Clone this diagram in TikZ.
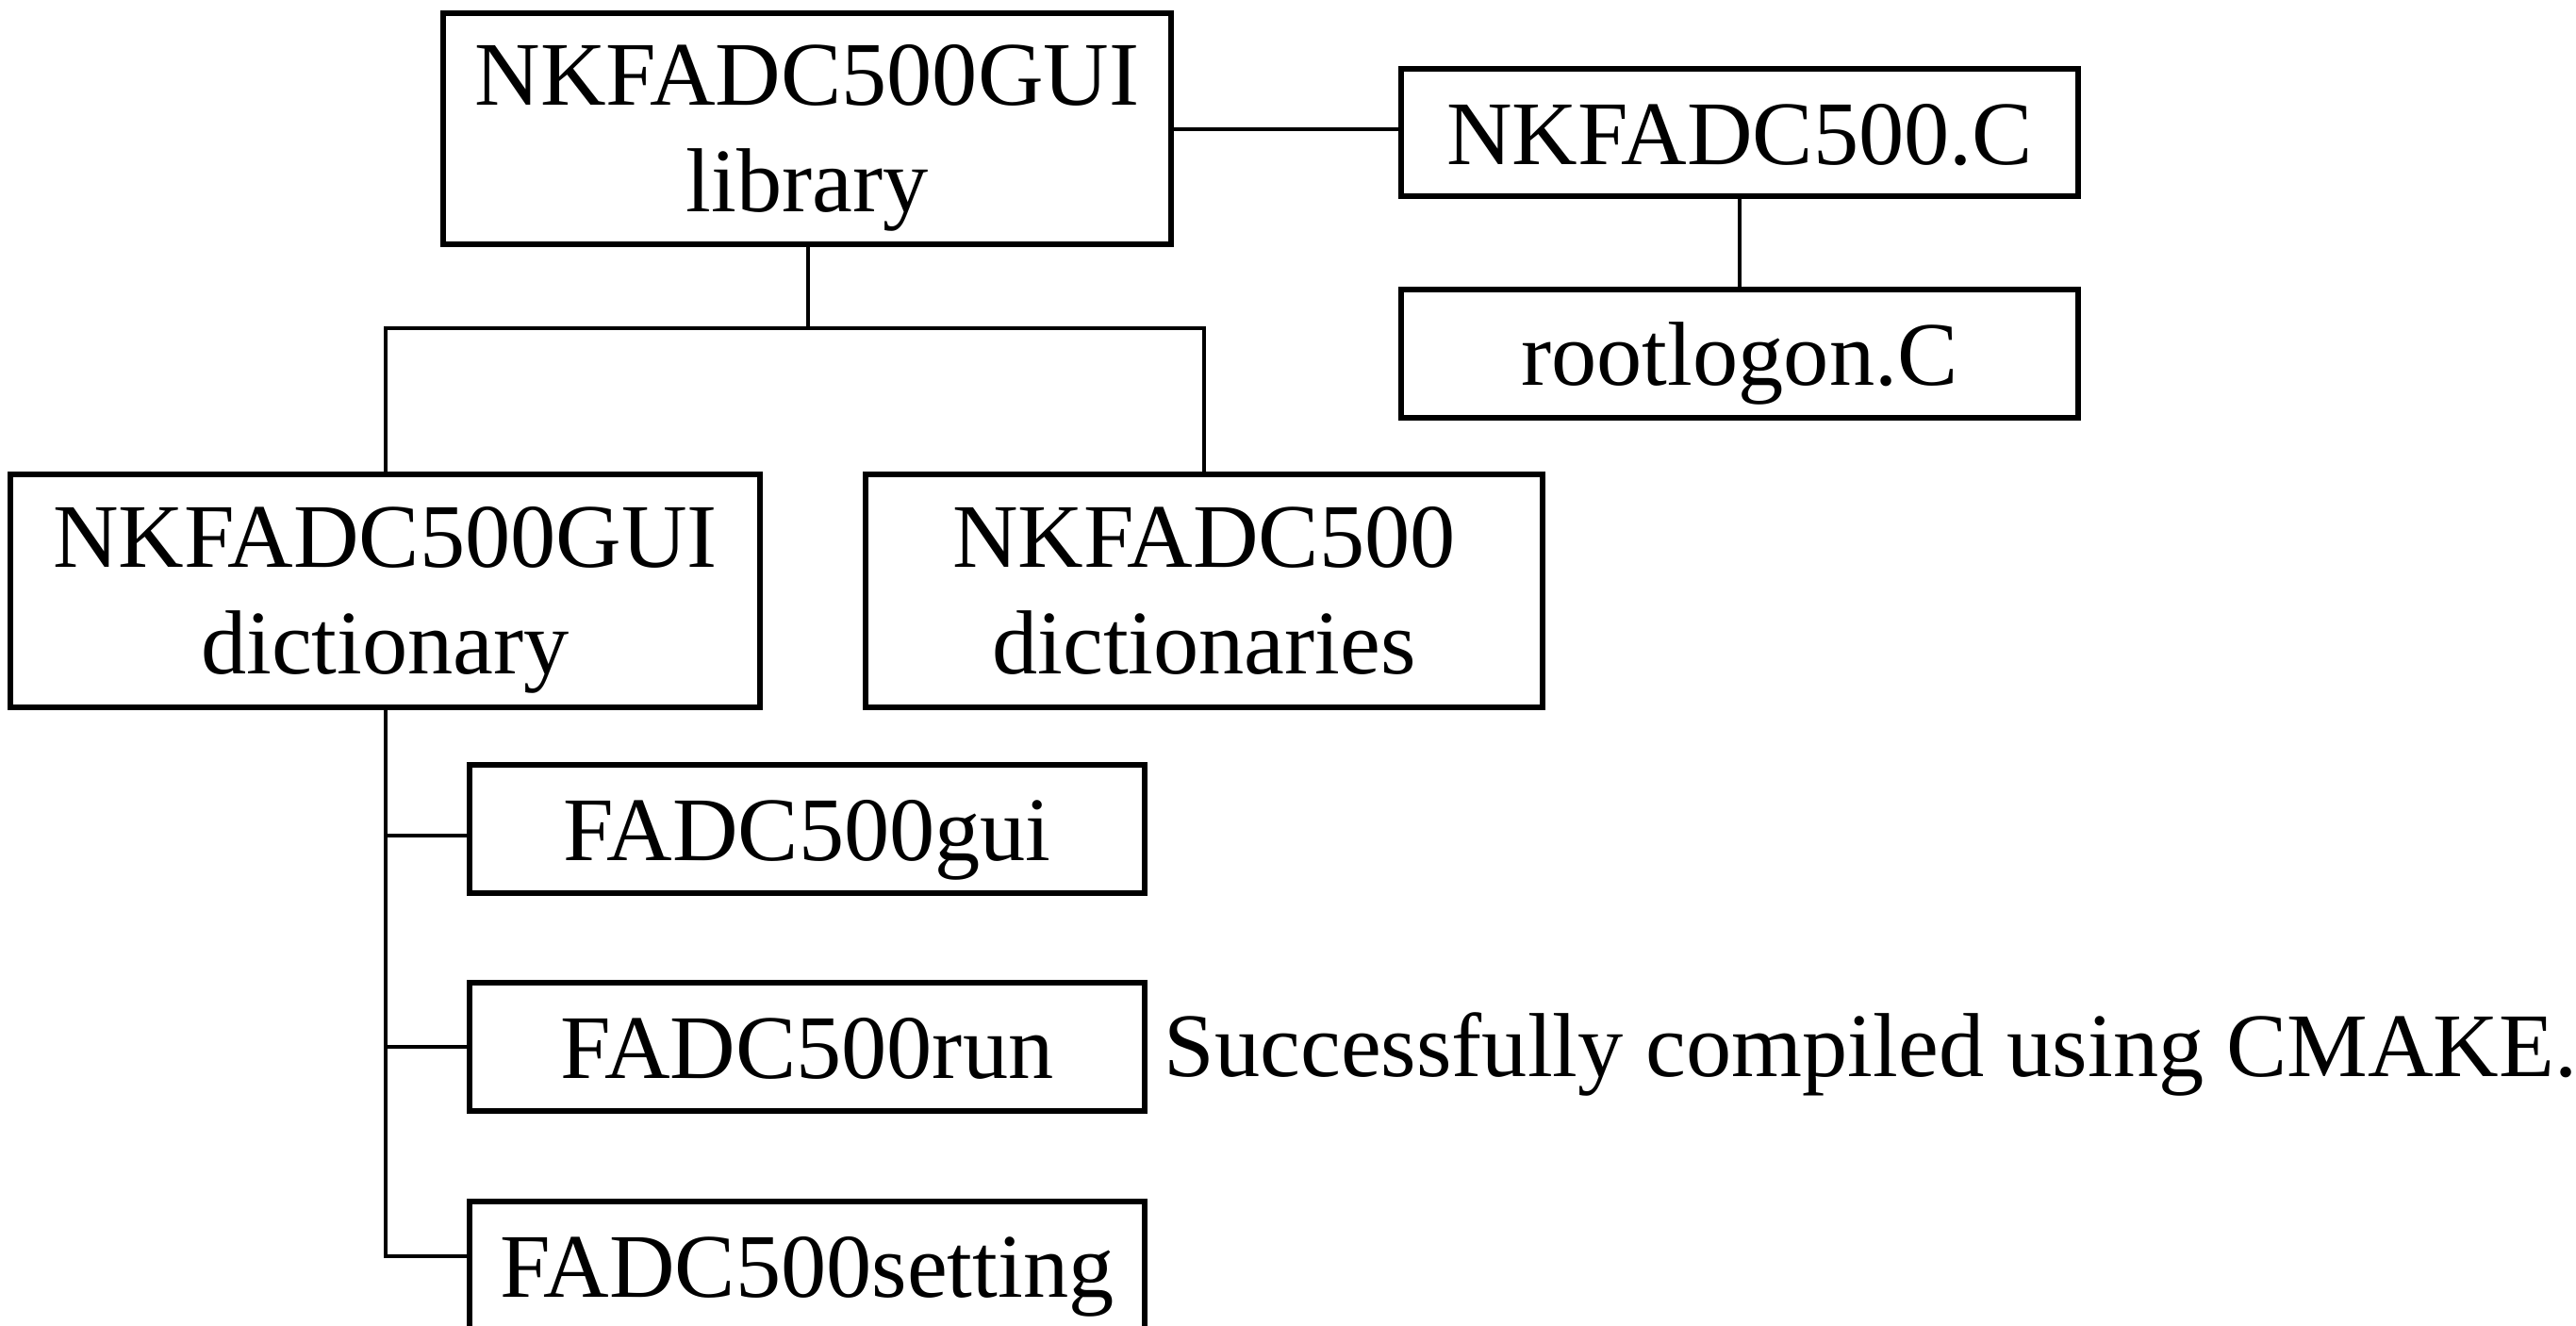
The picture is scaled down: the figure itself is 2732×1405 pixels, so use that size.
\documentclass[tikz,border=0pt]{standalone}
\usepackage{fontspec}
\setmainfont{Liberation Serif}
\newcommand{\topstrut}{\rule{0pt}{0.88cm}}
\newcommand{\botstrut}{\rule[-0.25cm]{0pt}{0pt}}
\begin{document}
\begin{tikzpicture}[x=0.01cm,y=-0.01cm,
  boxbase/.style={draw, line width=0.055cm, inner sep=0pt, align=center,
    font=\fontsize{27.4}{31.9}\selectfont},
  onebox/.style={boxbase, text height=0.67cm, text depth=0cm},
  twobox/.style={boxbase},
  link/.style={line width=0.04cm}]
\useasboundingbox (0,0) rectangle (2732,1405);
\clip (0,0) rectangle (2732,1405);
\node[twobox, minimum width=7.72cm, minimum height=2.45cm] (A) at (856,136.5) {\topstrut NKFADC500GUI\\library\botstrut};
\node[onebox, minimum width=7.18cm, minimum height=1.35cm] (B) at (1845,140.5) {NKFADC500.C};
\node[onebox, minimum width=7.18cm, minimum height=1.36cm] (C) at (1845,375) {rootlogon.C};
\node[twobox, minimum width=7.95cm, minimum height=2.47cm] (D) at (408.5,626.5) {\topstrut NKFADC500GUI\\dictionary\botstrut};
\node[twobox, minimum width=7.18cm, minimum height=2.47cm] (E) at (1277,626.5) {\topstrut NKFADC500\\dictionaries\botstrut};
\node[onebox, minimum width=7.16cm, minimum height=1.36cm] (F) at (856,879) {FADC500gui};
\node[onebox, minimum width=7.16cm, minimum height=1.36cm] (G) at (856,1110) {FADC500run};
\node[onebox, minimum width=7.16cm, minimum height=1.36cm] (H) at (856,1342) {FADC500setting};
\node[font=\fontsize{27.4}{31.9}\selectfont, anchor=base west, inner sep=0pt] (note) at (1234,1141.5) {Successfully compiled using CMAKE.};
\coordinate (j) at (857,348);
\draw[link] (A.east) -- (A.east -| B.west);
\draw[link] (B.south) -- (C.north);
\draw[link] (A.south -| j) -- (j);
\draw[link] (D.north) |- (j) -| (E.north);
\draw[link] (D.south) |- ([yshift=0.1cm]H.west);
\draw[link] ([yshift=-0.07cm]D.south |- F.west) -- ([yshift=-0.07cm]F.west);
\draw[link] (D.south |- G.west) -- (G.west);
\end{tikzpicture}
\end{document}
